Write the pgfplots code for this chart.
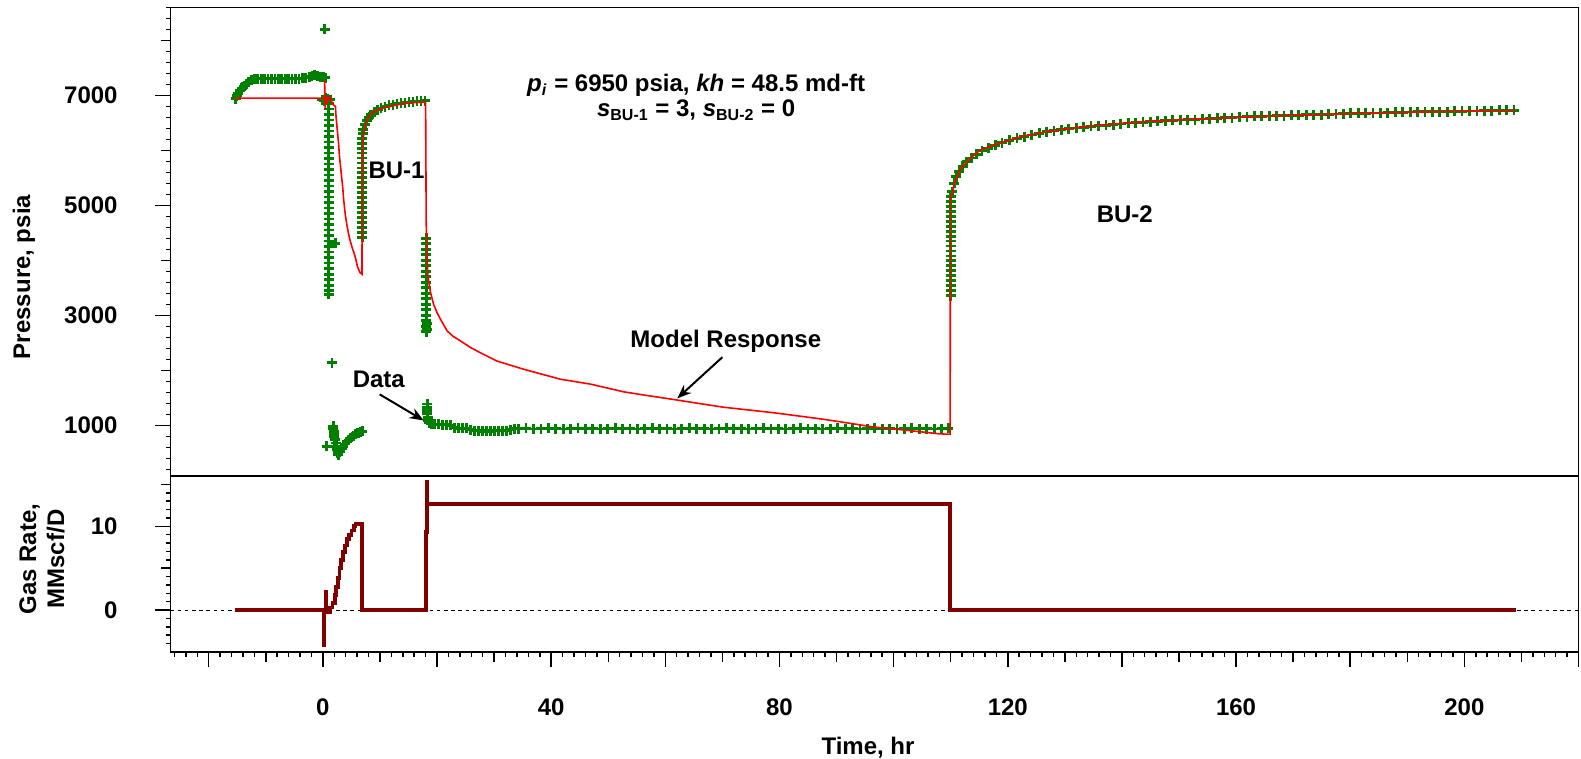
\documentclass[border=0pt]{standalone}
\usepackage{fontspec}
\setmainfont{Liberation Sans}
\usepackage{pgfplots}
\pgfplotsset{compat=1.18}
\usetikzlibrary{arrows.meta}
\definecolor{dgreen}{RGB}{0,128,0}
\definecolor{mred}{RGB}{255,0,0}
\definecolor{maroon}{RGB}{128,0,0}
\newcommand{\fs}{\fontsize{12}{14}\selectfont\bfseries}
\begin{document}
\begin{tikzpicture}[font=\fs]
\pgfplotsset{
  every axis/.append style={
    scale only axis, width=704pt,
    xmin=-26.7, xmax=220,
    axis line style={line width=0.75pt, black},
    every tick/.style={line width=0.75pt, black},
    tick align=outside,
    xtick pos=bottom, ytick pos=left,
    tick label style={font=\fs},
    major tick length=7.5pt, minor tick length=2.3pt,
    yticklabel style={anchor=east, inner sep=0pt, xshift=-18.75pt},
    xticklabel style={anchor=center, inner sep=0pt},
    clip mode=individual,
  }
}
% ---------------- pressure panel ----------------
\begin{axis}[at={(0,0)}, anchor=south west, height=234.35pt,
  ymin=80, ymax=8600,
  xtick=\empty,
  ytick={1000,3000,5000,7000}, yticklabels={1000,3000,5000,7000},
  minor ytick={200,400,...,8600},
  extra y ticks={2000,4000,6000,8000}, extra y tick labels={},
  extra y tick style={major tick length=4.7pt},
]
% measured data
\addplot[only marks, mark=+, mark size=2.5pt, color=dgreen, mark options={line width=1.4pt}] coordinates {
(-15.3,6940) (-15.1,6990) (-14.8,7040) (-14.5,7090) (-14.2,7130) (-13.8,7170) (-13.4,7210) (-13.0,7240)
(-12.5,7270) (-12.0,7290) (-11.4,7300) (-10.8,7300) (-10.2,7295) (-9.6,7300) (-9.0,7300) (-8.4,7295)
(-7.8,7300) (-7.2,7300) (-6.6,7300) (-6.0,7300) (-5.4,7295) (-4.8,7300) (-4.2,7305) (-3.6,7310)
(-3.0,7320) (-2.4,7330) (-1.9,7345) (-1.4,7370) (-0.9,7355) (-0.4,7340) (0.1,7330) (0.4,7320)
(0.3,8200) (-0.1,6920) (0.2,6900) (0.5,6950) (0.8,6940) (1.3,6920)
(1.0,6850) (1.0,6750) (1.0,6650) (1.0,6550) (1.0,6450) (1.0,6350) (1.0,6250) (1.0,6150) (1.0,6050)
(1.0,5950) (1.0,5850) (1.0,5750) (1.0,5650) (1.0,5550) (1.0,5450) (1.0,5350) (1.0,5250) (1.0,5150)
(1.0,5050) (1.0,4950) (1.0,4850) (1.0,4750) (1.0,4650) (1.0,4550) (1.0,4450) (1.0,4350) (1.0,4250)
(1.0,4150) (1.0,4050) (1.0,3950) (1.0,3850) (1.0,3750) (1.0,3650) (1.0,3550) (1.0,3450) (1.0,3380)
(2.2,4310) (1.6,2140)
(0.7,620) (1.8,990) (1.8,940) (1.9,890) (1.9,840) (2.0,790) (2.1,740) (2.3,680) (2.4,620) (2.5,560)
(2.6,500) (2.7,460) (3.0,520) (3.3,570) (3.6,620) (3.9,660) (4.2,700) (4.5,735) (4.8,765) (5.1,795)
(5.4,815) (5.7,835) (6.0,855) (6.3,870) (6.6,885) (6.9,895)
(6.9,4420) (6.9,4510) (6.9,4600) (6.9,4690) (6.9,4780) (6.9,4870) (6.9,4960) (6.9,5050) (6.9,5140)
(6.9,5230) (6.9,5320) (6.9,5410) (6.9,5500) (6.9,5590) (6.9,5680) (6.9,5770) (6.9,5860) (6.9,5950)
(6.9,6040) (6.9,6130) (6.9,6220) (6.95,6300)
(7.1,6380) (7.4,6470) (7.7,6540) (8.1,6600) (8.5,6650) (9.0,6700) (9.6,6740) (10.2,6770) (10.9,6795)
(11.6,6815) (12.3,6830) (13.0,6845) (13.7,6855) (14.4,6865) (15.1,6875) (15.8,6885) (16.5,6890)
(17.2,6895) (17.9,6900)
(18.1,4400) (18.1,4300) (18.1,4200) (18.1,4100) (18.1,4000) (18.1,3900) (18.1,3800) (18.1,3700)
(18.1,3600) (18.1,3500) (18.1,3400) (18.1,3300) (18.1,3200) (18.1,3100) (18.1,3000) (18.1,2900)
(18.1,2800) (18.1,2700) (18.2,2750) (18.2,2850)
(18.3,1390) (18.3,1330) (18.3,1270) (18.3,1210) (18.4,1150) (18.4,1090) (18.6,1050) (19.0,1030)
(19.6,1020) (20.3,1020) (21.0,1010) (21.7,1010) (22.4,1000) (23.1,960) (23.8,950) (24.5,950)
(25.2,950) (25.9,920) (26.6,900) (27.3,900) (28.0,895) (28.7,900) (29.4,895) (30.1,900) (30.8,900)
(31.5,905) (32.2,905) (32.9,920) (33.6,940)
(34.3,940) (35.6,945) (36.9,935) (38.2,940) (39.5,945) (40.8,940) (42.1,935) (43.4,940) (44.7,945)
(46.0,940) (47.3,940) (48.6,935) (49.9,940) (51.2,945) (52.5,940) (53.8,940) (55.1,935) (56.4,940)
(57.7,945) (59.0,940) (60.3,940) (61.6,935) (62.9,940) (64.2,945) (65.5,940) (66.8,940) (68.1,935)
(69.4,940) (70.7,945) (72.0,940) (73.3,940) (74.6,935) (75.9,940) (77.2,945) (78.5,940) (79.8,940)
(81.1,935) (82.4,940) (83.7,945) (85.0,940) (86.3,940) (87.6,935) (88.9,940) (90.2,945) (91.5,940)
(92.8,940) (94.1,935) (95.4,940) (96.7,945) (98.0,940) (99.3,940) (100.6,935) (101.9,940) (103.2,945)
(104.5,940) (105.8,940) (107.1,935) (108.4,940) (109.6,945)
(110.0,3360) (110.0,3450) (110.0,3540) (110.0,3630) (110.0,3720) (110.0,3810) (110.0,3900) (110.0,3990)
(110.0,4080) (110.0,4170) (110.0,4260) (110.0,4350) (110.0,4440) (110.0,4530) (110.0,4620) (110.0,4710)
(110.0,4800) (110.0,4890) (110.0,4980) (110.0,5070) (110.0,5160)
(110.3,5250) (110.6,5400) (111.0,5520) (111.5,5620) (112.1,5710) (112.8,5790) (113.6,5860) (114.5,5930)
(115.5,5990) (116.6,6040) (117.8,6090) (119.0,6140) (120.3,6180) (121.6,6215) (122.9,6250) (124.2,6280)
(125.5,6310) (126.8,6335) (128.1,6355) (129.4,6375) (130.7,6390) (132.0,6405) (133.3,6420) (134.6,6435)
(135.9,6445) (137.2,6455) (138.5,6465) (139.8,6480) (141.1,6495) (142.4,6505) (143.7,6510) (145.0,6520)
(146.3,6525) (147.6,6535) (148.9,6545) (150.2,6550) (151.5,6555) (152.8,6560) (154.1,6570) (155.4,6575)
(156.7,6585) (158.0,6590) (159.3,6595) (160.6,6605) (161.9,6610) (163.2,6615) (164.5,6620) (165.8,6625)
(167.1,6630) (168.4,6630) (169.7,6635) (171.0,6640) (172.3,6645) (173.6,6650) (174.9,6650) (176.2,6655)
(177.5,6660) (178.8,6665) (180.1,6670) (181.4,6670) (182.7,6675) (184.0,6680) (185.3,6680) (186.6,6685)
(187.9,6690) (189.2,6690) (190.5,6695) (191.8,6700) (193.1,6700) (194.4,6700) (195.7,6705) (197.0,6705)
(198.3,6710) (199.6,6710) (200.9,6715) (202.2,6715) (203.5,6720) (204.8,6720) (206.1,6725) (207.4,6725)
(208.7,6730)
};
% model response
\addplot[mred, line width=0.8pt] coordinates {
(-15.4,6950) (0.3,6950) (0.3,7270) (0.4,6760) (0.5,6950) (0.6,6960) (0.8,6880) (1.0,6960) (1.3,6960)
(1.6,6870) (1.9,6820) (2.2,6800) (2.3,6620) (2.5,6400) (2.75,6120) (2.9,5900) (3.05,5750) (3.2,5600)
(3.35,5450) (3.5,5300) (3.6,5150) (3.75,5000) (3.9,4850) (4.2,4650) (4.5,4480) (4.8,4350) (5.1,4240)
(5.4,4150) (5.7,4050) (6.1,3870) (6.5,3780) (6.85,3750)
(6.9,5880) (7.0,6100) (7.15,6300) (7.4,6450) (7.7,6540) (8.0,6600) (8.6,6680) (9.5,6730) (10.5,6770)
(11.8,6800) (13.2,6830) (14.7,6860) (16.3,6870) (18.0,6880)
(18.1,4720) (18.2,4200) (18.4,3700) (18.9,3400) (19.4,3200) (20.0,3050) (20.6,2930) (21.75,2720)
(22.8,2620) (24.1,2536) (25.8,2420) (27.6,2320) (30.5,2170) (35.2,2020) (41.6,1840) (46.9,1750)
(52.7,1610) (57.0,1540) (61.5,1470) (65.8,1400) (70.2,1330) (74.6,1280) (79.0,1230) (83.4,1170)
(87.8,1110) (92.2,1040) (96.5,970) (102.4,910) (107.6,850) (109.9,836)
(109.95,5150) (110.3,5210) (110.6,5390) (111.7,5660) (113.4,5850) (115.1,6000) (118.2,6120)
(122.4,6250) (127.3,6350) (134.2,6440) (141.1,6500) (148.0,6545) (155.0,6575) (165.4,6620)
(175.8,6655) (186.2,6685) (200.0,6710) (209.0,6727)
};
\node at (axis cs:65.4,7182) {\textit{p}\textsubscript{\textit{i}} = 6950 psia, \textit{kh} = 48.5 md-ft};
\node at (axis cs:65.4,6727) {\textit{s}\textsubscript{BU-1} = 3, \textit{s}\textsubscript{BU-2} = 0};
\node at (axis cs:12.9,5633) {BU-1};
\node at (axis cs:140.5,4844) {BU-2};
\node at (axis cs:70.6,2523) {Model Response};
\node at (axis cs:9.8,1838) {Data};
\draw[-{Stealth[length=7pt,width=5.5pt]}, line width=1pt] (axis cs:70.0,2240) -- (axis cs:62.1,1492);
\draw[-{Stealth[length=7pt,width=5.5pt]}, line width=1pt] (axis cs:9.95,1564) -- (axis cs:17.65,1090);
\end{axis}
% ---------------- rate panel ----------------
\begin{axis}[at={(0,0)}, anchor=north west, height=88pt,
  ymin=-5, ymax=16,
  ytick={0,10}, yticklabels={0,10},
  minor ytick={-4,-3,...,15},
  extra y ticks={5,15}, extra y tick labels={},
  extra y tick style={major tick length=4.7pt},
  xtick={-20,0,...,220}, xticklabels={,0,,40,,80,,120,,160,,200,},
  minor xtick={-26,-24,...,220},
  extra x ticks={-10,10,30,50,70,90,110,130,150,170,190,210}, extra x tick labels={},
  extra x tick style={major tick length=5pt},
  xticklabel style={yshift=-20pt},
]
\addplot[black, dashed, line width=0.5pt, dash pattern=on 1.8pt off 1.8pt] coordinates {(-26.7,0) (220,0)};
\addplot[maroon, line width=1.9pt] coordinates {
(-15.4,0) (0.1,0) (0.1,-4.2) (0.15,-4.2) (0.15,0) (0.6,0) (0.6,2.2) (0.65,2.2) (0.65,-0.2) (1.2,-0.2)
(1.2,0.3) (1.7,0.3) (1.7,0.8) (2.1,0.8) (2.1,1.8) (2.35,1.8) (2.35,2.8) (2.6,2.8) (2.6,3.8) (2.9,3.8)
(2.9,5.0) (3.2,5.0) (3.2,6.0) (3.5,6.0) (3.5,6.9) (3.85,6.9) (3.85,7.7) (4.25,7.7) (4.25,8.5) (4.6,8.5)
(4.6,9.0) (5.0,9.0) (5.0,9.5) (5.4,9.5) (5.4,10.0) (5.7,10.0) (5.7,10.3) (6.8,10.3) (6.8,0) (18.1,0)
(18.1,9.3) (18.2,9.3) (18.2,15.3) (18.3,15.3) (18.3,12.7) (109.9,12.7) (109.9,0) (209,0)
};
\end{axis}
\node[rotate=90] at (-73.25pt,99.5pt) {Pressure, psia};
\node[rotate=90, align=center] at (-64.25pt,-41.5pt) {Gas Rate,\\MMscf/D};
\node at (348.75pt,-136pt) {Time, hr};
\pgfresetboundingbox
\path[use as bounding box] (-85.25pt,-141.5pt) rectangle (705.25pt,238pt);
\end{tikzpicture}
\end{document}
